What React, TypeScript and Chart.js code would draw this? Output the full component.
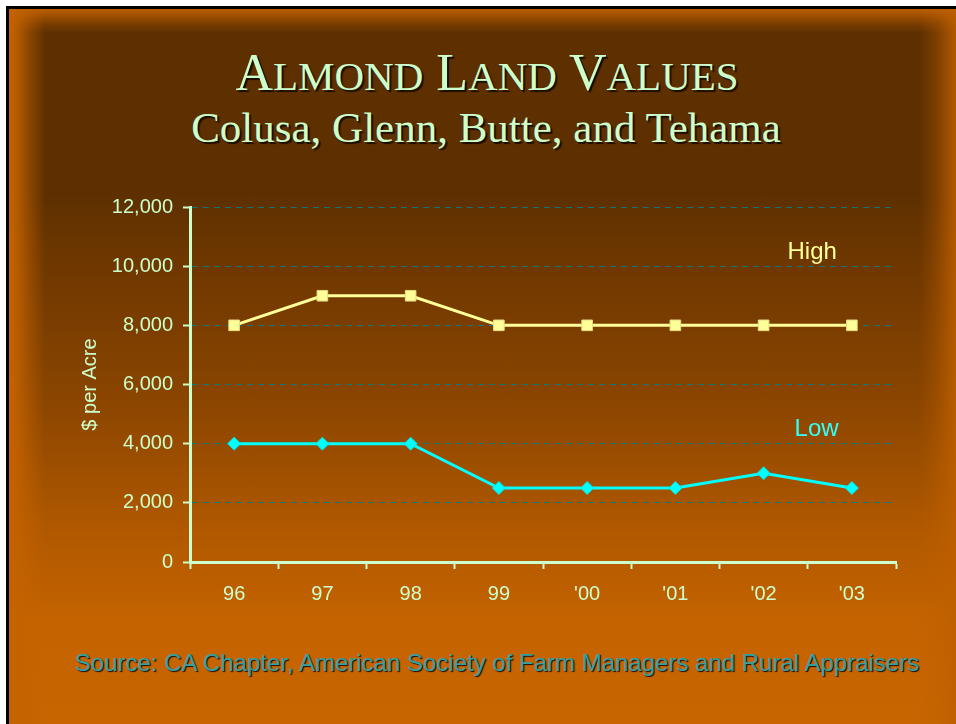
import React, { useEffect, useRef } from "react";
import { Chart, registerables } from "chart.js";

Chart.register(...registerables);

const categories = ["96", "97", "98", "99", "'00", "'01", "'02", "'03"];
const highValues = [8000, 9000, 9000, 8000, 8000, 8000, 8000, 8000];
const lowValues = [4000, 4000, 4000, 2500, 2500, 2500, 3000, 2500];
const yTickValues = [0, 2000, 4000, 6000, 8000, 10000, 12000];
const seriesNames = ["High", "Low"];

const SANS = '"Liberation Sans", Arial, sans-serif';
const SERIF = '"Liberation Serif", "Times New Roman", serif';
const PALE = "#ccffcc";

export default function App() {
  const ref = useRef<HTMLCanvasElement | null>(null);

  useEffect(() => {
    if (!ref.current) return;
    const labelPlugin = {
      id: "seriesLabels",
      afterDatasetsDraw(chart: any) {
        const { ctx, scales } = chart;
        const x = scales.x;
        const y = scales.y;
        ctx.save();
        ctx.font = `24px ${SANS}`;
        ctx.textAlign = "center";
        ctx.textBaseline = "middle";
        ctx.fillStyle = "#ffff99";
        ctx.fillText(seriesNames[0], x.getPixelForValue(6.55), y.getPixelForValue(10450));
        ctx.fillStyle = "#33ffff";
        ctx.fillText(seriesNames[1], x.getPixelForValue(6.6), y.getPixelForValue(4500));
        ctx.restore();
      },
    };

    const chart = new Chart(ref.current, {
      type: "line",
      data: {
        labels: categories,
        datasets: [
          {
            label: seriesNames[0],
            data: highValues,
            borderColor: "#ffff99",
            backgroundColor: "#ffff99",
            borderWidth: 3,
            pointStyle: "rect",
            pointRadius: 7.5,
            pointBorderWidth: 1,
            pointBorderColor: "#e6dc80",
            pointBackgroundColor: "#ffff99",
            tension: 0,
            fill: false,
          },
          {
            label: seriesNames[1],
            data: lowValues,
            borderColor: "#00ffff",
            backgroundColor: "#00ffff",
            borderWidth: 3,
            pointStyle: "rectRot",
            pointRadius: 6.5,
            pointBorderWidth: 1,
            pointBorderColor: "#00e0e0",
            pointBackgroundColor: "#00ffff",
            tension: 0,
            fill: false,
          },
        ],
      },
      options: {
        responsive: false,
        animation: false,
        layout: { padding: { top: 207, left: 70, right: 60, bottom: 0 } },
        plugins: {
          legend: { display: false },
          tooltip: { enabled: false },
          title: { display: false },
        },
        scales: {
          x: {
            offset: true,
            grid: {
              offset: true,
              drawOnChartArea: false,
              drawTicks: true,
              tickLength: 7,
              tickWidth: 2,
              tickColor: PALE,
              color: PALE,
            },
            border: { color: PALE, width: 3 },
            ticks: {
              color: PALE,
              font: { size: 20, family: SANS },
              padding: 13,
              maxRotation: 0,
              autoSkip: false,
            },
            afterFit(scale: any) {
              scale.height = 162;
            },
          },
          y: {
            min: 0,
            max: 12000,
            afterBuildTicks(scale: any) {
              scale.ticks = yTickValues.map((v) => ({ value: v }));
            },
            ticks: {
              color: PALE,
              font: { size: 20, family: SANS },
              padding: 10,
              callback: (v: any) => Number(v).toLocaleString("en-US"),
            },
            grid: {
              color: "#0e7878",
              lineWidth: 1,
              tickLength: 7,
              tickWidth: 2,
              tickColor: PALE,
            },
            border: { color: PALE, width: 3, dash: [6, 5] },
            title: {
              display: true,
              text: "$ per Acre",
              color: PALE,
              font: { size: 20, family: SANS },
              padding: { top: 8, bottom: 0 },
            },
            afterFit(scale: any) {
              scale.width = 120;
            },
          },
        },
      },
      plugins: [labelPlugin],
    } as any);
    return () => chart.destroy();
  }, []);

  const big = { fontSize: 52 };
  const small = { fontSize: 41 };
  const shadowTitle = "2px 2px 1px #1a0c00";

  return (
    <div style={{ position: "relative", width: 956, height: 724, overflow: "hidden" }}>
      <style>{`html,body{margin:0;padding:0;overflow:hidden;background:#fff}`}</style>
      <div
        style={{
          position: "absolute",
          left: 6,
          top: 6,
          width: 951,
          height: 730,
          borderLeft: "3px solid #000",
          borderTop: "3px solid #000",
          background: [
            "linear-gradient(to right, rgba(196,98,0,1) 0px, rgba(196,98,0,0.85) 8px, rgba(196,98,0,0.45) 20px, rgba(196,98,0,0) 36px)",
            "linear-gradient(to left, rgba(190,95,0,1) 0px, rgba(190,95,0,0.7) 10px, rgba(190,95,0,0.3) 24px, rgba(190,95,0,0) 40px)",
            "linear-gradient(to bottom, rgba(186,92,0,1) 0px, rgba(186,92,0,0.7) 7px, rgba(186,92,0,0.3) 15px, rgba(186,92,0,0) 24px)",
            "linear-gradient(to bottom, #5e3000 0px, #5e3000 185px, #6e3700 250px, #8a4500 390px, #b05800 520px, #c46300 610px, #c86500 720px)",
          ].join(","),
        }}
      />
      <div
        style={{
          position: "absolute",
          left: 0,
          top: 47,
          width: 974,
          textAlign: "center",
          fontFamily: SERIF,
          fontSize: 52,
          lineHeight: "52px",
          color: PALE,
          textShadow: shadowTitle,
          whiteSpace: "nowrap",
        }}
      >
        <span style={big}>A</span>
        <span style={small}>LMOND</span>
        <span style={big}> L</span>
        <span style={small}>AND</span>
        <span style={big}> V</span>
        <span style={small}>ALUES</span>
      </div>
      <div
        style={{
          position: "absolute",
          left: 0,
          top: 106,
          width: 972,
          textAlign: "center",
          fontFamily: SERIF,
          fontSize: 43,
          lineHeight: "43px",
          color: PALE,
          textShadow: shadowTitle,
          whiteSpace: "nowrap",
        }}
      >
        Colusa, Glenn, Butte, and Tehama
      </div>
      <div
        style={{
          position: "absolute",
          left: 0,
          top: 651,
          width: 994,
          textAlign: "center",
          fontFamily: SANS,
          fontSize: 24,
          lineHeight: "24px",
          color: "#33a0a6",
          textShadow: "1px 1px 1px #1a0d00",
          whiteSpace: "nowrap",
        }}
      >
        Source: CA Chapter, American Society of Farm Managers and Rural Appraisers
      </div>
      <canvas
        ref={ref}
        width={956}
        height={724}
        style={{ position: "absolute", left: 0, top: 0, width: 956, height: 724 }}
      />
    </div>
  );
}
